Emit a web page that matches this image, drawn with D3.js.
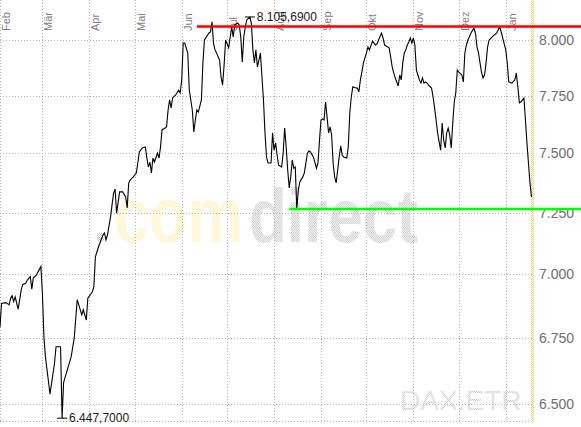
<!DOCTYPE html>
<html><head><meta charset="utf-8">
<script src="https://cdn.jsdelivr.net/npm/d3@7"></script>
<style>html,body{margin:0;padding:0;background:#fff;}svg{display:block;font-family:Arial,"Liberation Sans",sans-serif;}</style>
</head><body><svg id="c" width="581" height="427"></svg>
<script>
const dates = ["2007-02-01","2007-02-02","2007-02-05","2007-02-07","2007-02-08","2007-02-09","2007-02-10","2007-02-11","2007-02-13","2007-02-15","2007-02-16","2007-02-18","2007-02-19","2007-02-21","2007-02-22","2007-02-23","2007-02-25","2007-02-28","2007-03-01","2007-03-02","2007-03-03","2007-03-06","2007-03-09","2007-03-10","2007-03-13","2007-03-14","2007-03-15","2007-03-20","2007-03-22","2007-03-24","2007-03-27","2007-03-28","2007-03-30","2007-03-31","2007-04-03","2007-04-04","2007-04-05","2007-04-07","2007-04-10","2007-04-11","2007-04-12","2007-04-13","2007-04-15","2007-04-17","2007-04-18","2007-04-19","2007-04-21","2007-04-23","2007-04-25","2007-04-26","2007-04-27","2007-04-28","2007-04-30","2007-05-02","2007-05-03","2007-05-04","2007-05-06","2007-05-08","2007-05-09","2007-05-10","2007-05-11","2007-05-12","2007-05-13","2007-05-14","2007-05-16","2007-05-17","2007-05-18","2007-05-19","2007-05-21","2007-05-22","2007-05-23","2007-05-24","2007-05-25","2007-05-26","2007-05-28","2007-05-30","2007-05-31","2007-06-01","2007-06-02","2007-06-03","2007-06-05","2007-06-06","2007-06-08","2007-06-09","2007-06-10","2007-06-11","2007-06-12","2007-06-14","2007-06-15","2007-06-16","2007-06-19","2007-06-20","2007-06-21","2007-06-22","2007-06-23","2007-06-24","2007-06-26","2007-06-27","2007-06-28","2007-06-29","2007-06-30","2007-07-02","2007-07-04","2007-07-05","2007-07-06","2007-07-08","2007-07-09","2007-07-10","2007-07-11","2007-07-12","2007-07-13","2007-07-14","2007-07-16","2007-07-17","2007-07-18","2007-07-19","2007-07-20","2007-07-21","2007-07-22","2007-07-23","2007-07-24","2007-07-25","2007-07-26","2007-07-27","2007-07-28","2007-07-30","2007-07-31","2007-08-01","2007-08-02","2007-08-03","2007-08-04","2007-08-06","2007-08-07","2007-08-08","2007-08-09","2007-08-10","2007-08-11","2007-08-12","2007-08-13","2007-08-14","2007-08-15","2007-08-16","2007-08-17","2007-08-18","2007-08-20","2007-08-21","2007-08-23","2007-08-24","2007-08-25","2007-08-27","2007-08-29","2007-08-30","2007-08-31","2007-09-01","2007-09-02","2007-09-03","2007-09-04","2007-09-05","2007-09-06","2007-09-07","2007-09-08","2007-09-09","2007-09-10","2007-09-11","2007-09-12","2007-09-13","2007-09-14","2007-09-15","2007-09-16","2007-09-18","2007-09-19","2007-09-20","2007-09-21","2007-09-22","2007-09-24","2007-09-25","2007-09-26","2007-09-27","2007-09-28","2007-09-29","2007-10-01","2007-10-02","2007-10-03","2007-10-05","2007-10-06","2007-10-07","2007-10-08","2007-10-09","2007-10-11","2007-10-12","2007-10-13","2007-10-14","2007-10-16","2007-10-17","2007-10-18","2007-10-19","2007-10-20","2007-10-22","2007-10-23","2007-10-24","2007-10-25","2007-10-26","2007-10-27","2007-10-28","2007-10-29","2007-10-30","2007-10-31","2007-11-01","2007-11-02","2007-11-03","2007-11-04","2007-11-05","2007-11-06","2007-11-07","2007-11-08","2007-11-09","2007-11-10","2007-11-11","2007-11-13","2007-11-14","2007-11-15","2007-11-16","2007-11-17","2007-11-18","2007-11-19","2007-11-20","2007-11-21","2007-11-22","2007-11-23","2007-11-24","2007-11-25","2007-11-26","2007-11-27","2007-11-28","2007-11-29","2007-11-30","2007-12-01","2007-12-03","2007-12-04","2007-12-05","2007-12-06","2007-12-07","2007-12-08","2007-12-09","2007-12-11","2007-12-12","2007-12-13","2007-12-14","2007-12-15","2007-12-16","2007-12-17","2007-12-18","2007-12-19","2007-12-20","2007-12-21","2007-12-23","2007-12-26","2007-12-27","2007-12-28","2007-12-29","2007-12-30","2008-01-01","2008-01-02","2008-01-03","2008-01-05","2008-01-07","2008-01-08","2008-01-09","2008-01-10","2008-01-11","2008-01-13","2008-01-14","2008-01-15","2008-01-16","2008-01-17","2008-01-18"];
const values = [6791,6884,6887,6878,6904,6914,6891,6910,6861,6937,6959,6963,6976,6990,6940,6985,6996,7030,6924,6754,6678,6537,6653,6716,6716,6447.7,6580,6678,6748,6899,6839,6859,6819,6904,6930,6950,7069,7109,7158,7166,7138,7158,7232,7331,7348,7248,7336,7336,7315,7269,7373,7386,7399,7415,7458,7505,7522,7526,7479,7441,7462,7416,7479,7462,7500,7479,7526,7600,7608,7613,7687,7731,7696,7740,7753,7775,7762,7820,7986,7986,7941,7775,7687,7591,7643,7687,7678,7731,7896,8000,8032,8037,8083,7986,7955,7941,7909,7833,7797,7887,8000,7964,8060,8014,8069,8078,8069,8014,7900,8014,8060,8092,8105.69,8078,7955,7896,7955,7878,7909,7941,7833,7731,7587,7483,7458,7458,7587,7513,7544,7492,7449,7441,7500,7608,7526,7428,7353,7399,7471,7436,7441,7265,7344,7378,7399,7416,7500,7509,7505,7483,7436,7458,7556,7643,7648,7643,7722,7657,7587,7613,7578,7458,7399,7374,7428,7483,7531,7492,7483,7479,7526,7674,7745,7789,7784,7784,7767,7820,7855,7896,7941,7968,7955,7995,7986,7977,7982,8000,8032,8009,7977,7973,7964,7923,7878,7851,7829,7793,7842,7820,7896,7941,7955,7977,7991,8009,7986,8009,7977,7864,7842,7820,7806,7829,7806,7811,7806,7797,7784,7745,7696,7643,7587,7548,7513,7630,7556,7522,7587,7608,7578,7522,7630,7722,7762,7864,7855,7842,7811,7941,7977,8000,8014,8032,8055,8032,7968,7941,7896,7855,7829,7842,7896,7968,8000,8014,8032,8046,8060,8037,8009,7955,7896,7811,7806,7820,7851,7789,7718,7722,7740,7643,7544,7458,7374,7315];
const monthLabels = ["Feb","Mär","Apr","Mai","Jun","Jul","Aug","Sep","Okt","Nov","Dez","Jan"];
const yTicks = [6500,6750,7000,7250,7500,7750,8000];
const levelStarts = ["2007-06-11","2007-08-11"];
const levelValues = [8062,7265];
const levelColors = ["#ff0000","#00ff00"];
const xDomain = ["2007-02-01","2008-01-19"];
const yDomain = [6500,8000];
const brandParts = ["com","direct"];
const symbol = "DAX.ETR";

const W = 581, H = 427, plotR = 533, plotB = 421;
const parse = d3.timeParse("%Y-%m-%d");
const data = dates.map((d,i)=>({date:parse(d), value:values[i]}));
const x = d3.scaleTime().domain(xDomain.map(parse)).range([0, plotR]);
const y = d3.scaleLog().domain(yDomain).range([404, 40]);
const de = d3.formatLocale({decimal:",", thousands:".", grouping:[3], currency:["","€"]});
const fTick = de.format(",.0f"), fAnn = de.format(",.4f");

const svg = d3.select("#c");
const defs = svg.append("defs");
function checker(id, color){
  const p = defs.append("pattern").attr("id",id).attr("width",2).attr("height",2).attr("patternUnits","userSpaceOnUse");
  p.append("rect").attr("width",1).attr("height",1).attr("fill",color);
  p.append("rect").attr("x",1).attr("y",1).attr("width",1).attr("height",1).attr("fill",color);
}
checker("pGray","#c6c6c6");
checker("pYel","#fff0b4");
checker("pLine","#f2cf6a");

// watermarks (natural width, stretched vertically)
svg.append("rect").attr("x",97).attr("y",233).attr("width",7).attr("height",8).attr("fill","url(#pGray)");
svg.append("text").attr("transform","translate(114,242) scale(1,1.24)").attr("font-size",63).attr("font-weight","bold")
  .attr("fill","url(#pYel)").text(brandParts[0]);
svg.append("text").attr("transform","translate(249,242) scale(1,1.24)").attr("font-size",62).attr("font-weight","bold")
  .attr("fill","url(#pGray)").text(brandParts[1]);
svg.append("text").attr("transform","translate(400,410) scale(1.04,1)").attr("font-size",27).attr("fill","url(#pGray)")
  .text(symbol);

// grid
const grid = svg.append("g").attr("stroke","#b4b4b4").attr("stroke-width",1).attr("stroke-dasharray","1,2").attr("shape-rendering","crispEdges");
const months = d3.timeMonth.range(x.domain()[0], x.domain()[1]);
grid.selectAll("line.v").data(months).join("line").attr("class","v")
  .attr("x1",d=>Math.round(x(d))+0.5).attr("x2",d=>Math.round(x(d))+0.5).attr("y1",0).attr("y2",plotB);
grid.selectAll("line.h").data(yTicks).join("line").attr("class","h")
  .attr("x1",0).attr("x2",plotR).attr("y1",d=>Math.round(y(d))+0.5).attr("y2",d=>Math.round(y(d))+0.5);
grid.append("line").attr("x1",0).attr("x2",plotR).attr("y1",plotB+0.5).attr("y2",plotB+0.5);

// month labels
svg.append("g").selectAll("text").data(months).join("text")
  .attr("transform",d=>`translate(${x(d)+10},31) rotate(-90)`)
  .attr("font-size",11).attr("fill","#808080").text((d,i)=>monthLabels[i]);

// y labels
svg.append("g").selectAll("text").data(yTicks).join("text")
  .attr("x",539).attr("y",d=>y(d)).attr("dy","0.36em").attr("font-size",14).attr("fill","#6e6e6e")
  .text(d=>fTick(d));

// right marker line
svg.append("rect").attr("x",plotR-2).attr("y",0).attr("width",3).attr("height",plotB+1).attr("fill","url(#pLine)");

// price line
const line = d3.line().x(d=>x(d.date)).y(d=>y(d.value));
svg.append("path").datum(data).attr("d",line).attr("fill","none").attr("stroke","#000").attr("stroke-width",1.1);

// support / resistance
svg.append("g").selectAll("line").data(levelValues).join("line")
  .attr("x1",(d,i)=>x(parse(levelStarts[i]))).attr("x2",W)
  .attr("y1",d=>y(d)).attr("y2",d=>y(d))
  .attr("stroke",(d,i)=>levelColors[i]).attr("stroke-width",(d,i)=>i===0?2.6:2.4);

// high / low annotations
const hi = data.reduce((a,b)=>b.value>a.value?b:a), lo = data.reduce((a,b)=>b.value<a.value?b:a);
[hi, lo].forEach(p=>{
  const px = x(p.date), py = y(p.value);
  svg.append("line").attr("x1",px-5).attr("x2",px+5).attr("y1",py).attr("y2",py).attr("stroke","#000").attr("stroke-width",1);
  svg.append("text").attr("x",px+7).attr("y",py).attr("dy","0.36em").attr("font-size",12).attr("fill","#1a1a1a").text(fAnn(p.value));
});
</script></body></html>
